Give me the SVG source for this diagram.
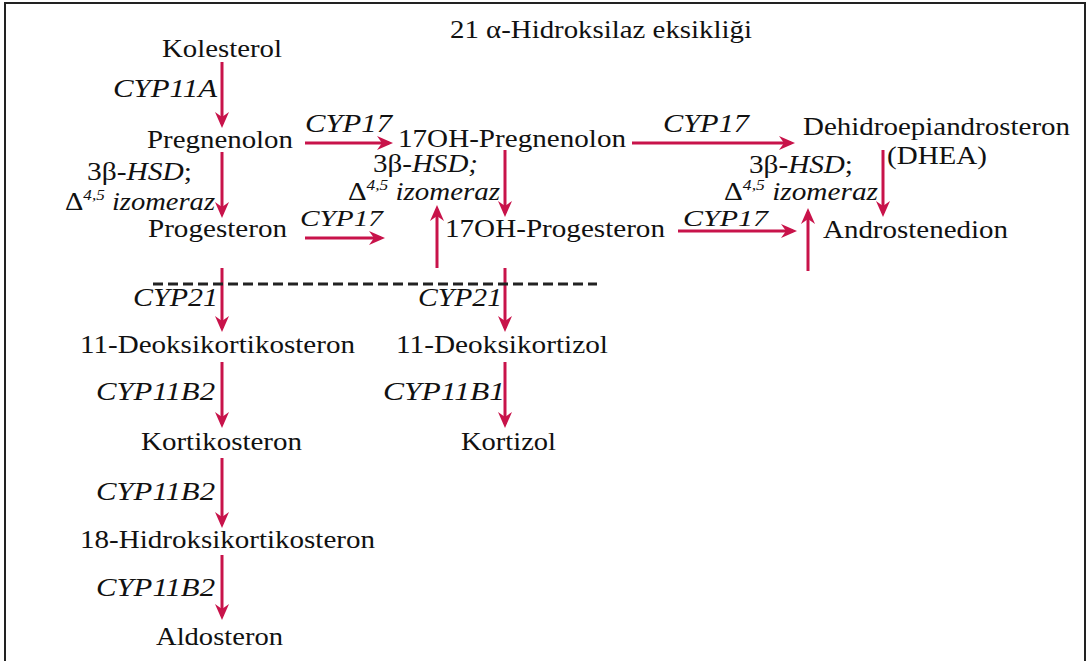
<svg xmlns="http://www.w3.org/2000/svg" width="1091" height="661" viewBox="0 0 1091 661">
<style>
text{font-family:"Liberation Serif","Times New Roman",serif;font-size:25px;fill:#111;}
.it{font-style:italic;}
.sm{font-size:24px;}
.sup{font-size:15px;font-style:italic;}
.arr{stroke:#C8134A;stroke-width:3;fill:none;marker-end:url(#ah);}
.dash{stroke:#222;stroke-width:3;stroke-dasharray:10 5;fill:none;}
</style>
<defs>
<marker id="ah" markerUnits="userSpaceOnUse" viewBox="0 0 16 14" refX="12" refY="7" markerWidth="16" markerHeight="14" orient="auto">
<path d="M0,0 L16,7 L0,14 L5,7 Z" fill="#C8134A"/>
</marker>
</defs>
<rect x="0" y="0" width="1091" height="661" fill="#fff"/>
<rect x="5" y="3" width="1080" height="700" fill="none" stroke="#222" stroke-width="2"/>

<g id="title"><text x="450" y="38" textLength="302" lengthAdjust="spacingAndGlyphs">21 α-Hidroksilaz eksikliği</text></g>

<g id="connectors">
<line class="arr" x1="222" y1="62" x2="222" y2="124"/>
<line class="arr" x1="222" y1="152" x2="222" y2="214"/>
<line class="arr" x1="222" y1="268" x2="222" y2="328"/>
<line class="arr" x1="222" y1="362" x2="222" y2="424"/>
<line class="arr" x1="222" y1="458" x2="222" y2="524"/>
<line class="arr" x1="222" y1="555" x2="222" y2="616"/>
<line class="arr" x1="305" y1="143" x2="389" y2="143"/>
<line class="arr" x1="305" y1="238" x2="381" y2="238"/>
<line class="arr" x1="437" y1="268" x2="437" y2="209"/>
<line class="arr" x1="505" y1="150" x2="505" y2="213"/>
<line class="arr" x1="505" y1="268" x2="505" y2="328"/>
<line class="arr" x1="505" y1="362" x2="505" y2="424"/>
<line class="arr" x1="632" y1="143" x2="791" y2="143"/>
<line class="arr" x1="883" y1="150" x2="883" y2="213"/>
<line class="arr" x1="678" y1="231" x2="793" y2="231"/>
<line class="arr" x1="808" y1="271" x2="808" y2="212"/>
<line class="dash" x1="153" y1="284" x2="597" y2="284"/>
</g>

<g id="kolesterol"><text x="162" y="57" textLength="120" lengthAdjust="spacingAndGlyphs">Kolesterol</text></g>
<g id="lbl-cyp11a"><text class="it" x="113" y="97" textLength="104" lengthAdjust="spacingAndGlyphs">CYP11A</text></g>
<g id="pregnenolon"><text x="147" y="148" textLength="146" lengthAdjust="spacingAndGlyphs">Pregnenolon</text></g>
<g id="lbl-hsd-left">
<text x="87" y="180" textLength="105" lengthAdjust="spacingAndGlyphs">3β-<tspan class="it">HSD</tspan>;</text>
<text x="65" y="210" textLength="150" lengthAdjust="spacingAndGlyphs">Δ<tspan class="sup" dy="-10">4,5</tspan><tspan class="it" dy="10"> izomeraz</tspan></text>
</g>
<g id="progesteron"><text x="148" y="237" textLength="139" lengthAdjust="spacingAndGlyphs">Progesteron</text></g>
<g id="lbl-cyp17-a"><text class="it" x="305" y="132" textLength="87" lengthAdjust="spacingAndGlyphs">CYP17</text></g>
<g id="oh-pregnenolon"><text x="398" y="147" textLength="228" lengthAdjust="spacingAndGlyphs">17OH-Pregnenolon</text></g>
<g id="lbl-hsd-mid">
<text x="373" y="172" textLength="105" lengthAdjust="spacingAndGlyphs">3β-<tspan class="it">HSD;</tspan></text>
<text x="348" y="200" textLength="152" lengthAdjust="spacingAndGlyphs">Δ<tspan class="sup" dy="-10">4,5</tspan><tspan class="it" dy="10"> izomeraz</tspan></text>
</g>
<g id="lbl-cyp17-b"><text class="it sm" x="300" y="226" textLength="83" lengthAdjust="spacingAndGlyphs">CYP17</text></g>
<g id="oh-progesteron"><text x="445" y="237" textLength="220" lengthAdjust="spacingAndGlyphs">17OH-Progesteron</text></g>
<g id="lbl-cyp17-c"><text class="it" x="663" y="132" textLength="86" lengthAdjust="spacingAndGlyphs">CYP17</text></g>
<g id="dhea">
<text x="803" y="135" textLength="267" lengthAdjust="spacingAndGlyphs">Dehidroepiandrosteron</text>
<text x="887" y="164" textLength="100" lengthAdjust="spacingAndGlyphs">(DHEA)</text>
</g>
<g id="lbl-hsd-right">
<text x="749" y="173" textLength="104" lengthAdjust="spacingAndGlyphs">3β-<tspan class="it">HSD</tspan>;</text>
<text x="724" y="200" textLength="154" lengthAdjust="spacingAndGlyphs">Δ<tspan class="sup" dy="-10">4,5</tspan><tspan class="it" dy="10"> izomeraz</tspan></text>
</g>
<g id="lbl-cyp17-d"><text class="it sm" x="683" y="226" textLength="85" lengthAdjust="spacingAndGlyphs">CYP17</text></g>
<g id="androstenedion"><text x="823" y="238" textLength="185" lengthAdjust="spacingAndGlyphs">Androstenedion</text></g>
<g id="lbl-cyp21-left"><text class="it" x="133" y="306" textLength="85" lengthAdjust="spacingAndGlyphs">CYP21</text></g>
<g id="lbl-cyp21-mid"><text class="it" x="418" y="306" textLength="84" lengthAdjust="spacingAndGlyphs">CYP21</text></g>
<g id="deoksikortikosteron"><text x="80" y="353" textLength="275" lengthAdjust="spacingAndGlyphs">11-Deoksikortikosteron</text></g>
<g id="deoksikortizol"><text x="396" y="353" textLength="212" lengthAdjust="spacingAndGlyphs">11-Deoksikortizol</text></g>
<g id="lbl-cyp11b2-1"><text class="it" x="96" y="400" textLength="119" lengthAdjust="spacingAndGlyphs">CYP11B2</text></g>
<g id="lbl-cyp11b1"><text class="it" x="383" y="400" textLength="122" lengthAdjust="spacingAndGlyphs">CYP11B1</text></g>
<g id="kortikosteron"><text x="141" y="450" textLength="161" lengthAdjust="spacingAndGlyphs">Kortikosteron</text></g>
<g id="kortizol"><text x="461" y="450" textLength="95" lengthAdjust="spacingAndGlyphs">Kortizol</text></g>
<g id="lbl-cyp11b2-2"><text class="it" x="96" y="500" textLength="119" lengthAdjust="spacingAndGlyphs">CYP11B2</text></g>
<g id="hidroksikortikosteron"><text x="80" y="548" textLength="295" lengthAdjust="spacingAndGlyphs">18-Hidroksikortikosteron</text></g>
<g id="lbl-cyp11b2-3"><text class="it" x="96" y="596" textLength="119" lengthAdjust="spacingAndGlyphs">CYP11B2</text></g>
<g id="aldosteron"><text x="156" y="645" textLength="127" lengthAdjust="spacingAndGlyphs">Aldosteron</text></g>
</svg>
